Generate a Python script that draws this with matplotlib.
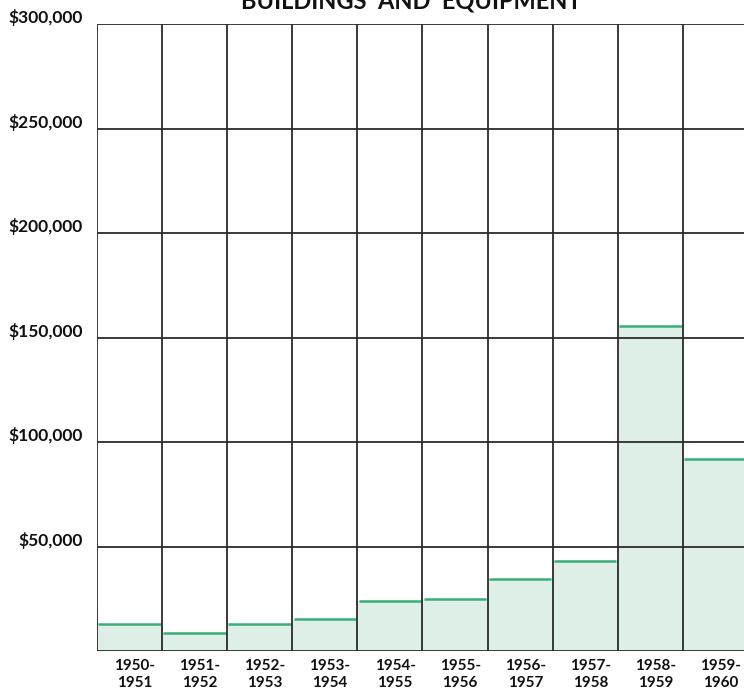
import matplotlib
matplotlib.use("Agg")
import matplotlib.pyplot as plt
import numpy as np

# Annual spending on buildings and equipment by school year
years = ["1950-\n1951", "1951-\n1952", "1952-\n1953", "1953-\n1954", "1954-\n1955",
         "1955-\n1956", "1956-\n1957", "1957-\n1958", "1958-\n1959", "1959-\n1960"]
amounts = [13000, 8500, 13000, 15500, 24000, 25000, 34500, 43000, 155500, 92000]
y_ticks = [50000, 100000, 150000, 200000, 250000, 300000]
y_labels = ["$50,000", "$100,000", "$150,000", "$200,000", "$250,000", "$300,000"]

FONT = ["Lato", "DejaVu Sans"]
LINE = "#2b2b2b"
FILL = "#ddefe6"
EDGE = "#3aae78"

fig = plt.figure(figsize=(7.44, 6.95), dpi=100)
ax = fig.add_axes([97 / 744, 1 - 651 / 695, 1 - 97 / 744, (651 - 24) / 695])

n = len(years)
x = np.arange(n)

# Filled columns with a green line marking each year's total
ax.bar(x, amounts, width=1.0, align="edge", color=FILL, edgecolor="none", zorder=1)
ax.hlines(amounts, x + 0.02, x + 0.98, colors=EDGE, linewidth=1.8, zorder=2)

# Grid frame: horizontal rules and column separators
for v in [0] + y_ticks:
    ax.axhline(v, color=LINE, linewidth=1.3, zorder=3)
for i in range(n + 1):
    ax.axvline(i, color=LINE, linewidth=1.3, zorder=3)

ax.set_xlim(0, 9.94)
ax.set_ylim(0, 300000)
for s in ax.spines.values():
    s.set_visible(False)
ax.set_xticks([])
ax.set_yticks([])

# Dollar labels sit just above their rules
for v, lab in zip(y_ticks, y_labels):
    ax.annotate(lab, xy=(0, v), xycoords="data", xytext=(-10, 4.5), textcoords="offset points",
                ha="right", va="center", fontsize=12.5, fontweight="bold",
                family=FONT, color="#111111", annotation_clip=False)

# School-year labels under each column
for i, lab in enumerate(years):
    ax.annotate(lab, xy=(i + 0.58, 0), xycoords="data", xytext=(0, -6), textcoords="offset points",
                ha="center", va="top", fontsize=11, fontweight="bold", family=FONT,
                color="#111111", linespacing=1.2, annotation_clip=False)

fig.text(411 / 744, 1 - 8 / 695, "BUILDINGS  AND  EQUIPMENT", ha="center", va="baseline",
         fontsize=17, fontweight="bold", family=FONT, color="#111111")

fig.savefig("out.png", dpi=100, facecolor="white")
